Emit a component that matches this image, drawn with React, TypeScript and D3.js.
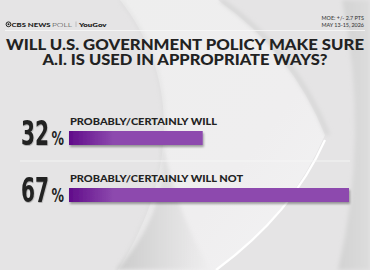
import { useMemo } from "react";
import * as d3 from "d3";

const WIDTH = 370;
const HEIGHT = 270;

const TITLE_LINES = ["WILL U.S. GOVERNMENT POLICY MAKE SURE", "A.I. IS USED IN APPROPRIATE WAYS?"];
const MOE_LINES = ["MOE: +/- 2.7 PTS", "MAY 13-15, 2026"];
const CATEGORIES = ["PROBABLY/CERTAINLY WILL", "PROBABLY/CERTAINLY WILL NOT"];
const VALUES = [32, 67];
const LABEL_WIDTHS = [147, 173];

const PURPLE_DARK = "#610c8a";
const PURPLE = "#8d4aae";
const INK = "#222222";

const BAR_LEFT = 69;
const BAR_RIGHT = 349;
const BAR_HEIGHT = 14;

const NUM_FONT = "'DejaVu Sans', sans-serif";

const App = () => {
  const xScale = useMemo(
    () => d3.scaleLinear().domain([0, d3.max(VALUES) as number]).range([BAR_LEFT, BAR_RIGHT]),
    []
  );
  const yScale = useMemo(
    () => d3.scalePoint<string>().domain(CATEGORIES).range([131, 188]),
    []
  );

  // background swoops of the eye logo
  const leftArc = "M120,0 C176,70 182,170 118,270";
  const lens = "M120,0 L218,0 Q292,52 325,135 Q292,212 218,270 L118,270 C182,170 176,70 120,0 Z";
  const crescent = "M158,130 C172,180 152,230 116,270 L212,270 C186,232 172,185 158,130 Z";
  const outer = d3.path();
  outer.moveTo(342, 0);
  outer.quadraticCurveTo(370, 135, 338, 270);
  outer.lineTo(370, 270);
  outer.lineTo(370, 0);
  outer.closePath();

  const rows = CATEGORIES.map((c, i) => ({ c, v: VALUES[i], y: yScale(c) as number, lw: LABEL_WIDTHS[i] }));

  return (
    <svg
      width={WIDTH}
      height={HEIGHT}
      style={{ position: "fixed", left: 0, top: 0 }}
      fontFamily="Lato, 'Open Sans', sans-serif"
    >
      <defs>
        <linearGradient id="barGrad" gradientUnits="userSpaceOnUse" x1={BAR_LEFT} x2={BAR_LEFT + 45} y1={0} y2={0}>
          <stop offset="0" stopColor={PURPLE_DARK} />
          <stop offset="1" stopColor={PURPLE} />
        </linearGradient>
        <linearGradient id="lensGrad" x1="0" y1="0" x2="1" y2="1">
          <stop offset="0" stopColor="#eeeeee" />
          <stop offset="0.6" stopColor="#efeeef" />
          <stop offset="1" stopColor="#f3f3f4" />
        </linearGradient>
        <linearGradient id="crescentGrad" x1="0" y1="0" x2="1" y2="0">
          <stop offset="0" stopColor="#cbcbcb" />
          <stop offset="1" stopColor="#cbcbcb" stopOpacity="0" />
        </linearGradient>
        <linearGradient id="rimGrad" x1="0" y1="0" x2="1" y2="0">
          <stop offset="0" stopColor="#d2d2d2" />
          <stop offset="1" stopColor="#dcdcdc" />
        </linearGradient>
        <filter id="soft" x="-20%" y="-20%" width="140%" height="140%">
          <feGaussianBlur stdDeviation="2" />
        </filter>
        <filter id="shadow" x="-5%" y="-50%" width="110%" height="220%">
          <feDropShadow dx="1" dy="2" stdDeviation="1.2" floodColor="#000" floodOpacity="0.35" />
        </filter>
        <filter id="numShadow" x="-10%" y="-10%" width="120%" height="130%">
          <feDropShadow dx="0.5" dy="1" stdDeviation="0.6" floodColor="#000" floodOpacity="0.25" />
        </filter>
      </defs>

      <rect width={WIDTH} height={HEIGHT} fill="#e5e4e5" />
      <path d={lens} fill="url(#lensGrad)" />
      <path d={crescent} fill="url(#crescentGrad)" filter="url(#soft)" />
      <path d={leftArc} fill="none" stroke="#d8d8d8" strokeWidth={1.5} filter="url(#soft)" />
      <path d="M218,0 Q292,52 325,135" fill="none" stroke="#d6d6d6" strokeWidth={4} filter="url(#soft)" transform="translate(3,0)" />
      <path d="M325,140 Q292,214 216,270" fill="none" stroke="#ffffff" strokeWidth={2.2} />
      <path d={outer.toString()} fill="url(#rimGrad)" filter="url(#soft)" />

      {/* header */}
      <g>
        <circle cx={8.5} cy={24.3} r={2.4} fill="none" stroke={INK} strokeWidth={1} />
        <circle cx={8.5} cy={24.3} r={1} fill={INK} />
        <text x={11.5} y={26.7} fontSize={6.4} fill={INK} fontWeight={900} textLength={39} lengthAdjust="spacingAndGlyphs">
          CBS NEWS
        </text>
        <text x={52} y={26.7} fontSize={6.4} fill={INK} fontWeight={300} textLength={20} lengthAdjust="spacingAndGlyphs">
          POLL
        </text>
        <line x1={76} x2={76} y1={21.5} y2={27} stroke="#999" strokeWidth={0.5} />
        <text x={79} y={26.7} fontSize={6.4} fill={INK} fontWeight={800} textLength={27.5} lengthAdjust="spacingAndGlyphs">
          YouGov
        </text>
        {MOE_LINES.map((t, i) => (
          <text key={t} x={364} y={19.5 + i * 7} fontSize={5.4} fill="#3a3a3a" textAnchor="end" fontWeight={500}>
            {t}
          </text>
        ))}
        <line x1={5} x2={365} y1={30.5} y2={30.5} stroke="#f7f7f7" strokeWidth={0.8} />
      </g>

      {/* title */}
      <text x={185} y={49.5} fontSize={15} fontWeight={900} fill={INK} textAnchor="middle" textLength={358} lengthAdjust="spacingAndGlyphs">
        {TITLE_LINES[0]}
      </text>
      <text x={185} y={64.5} fontSize={15} fontWeight={900} fill={INK} textAnchor="middle" textLength={285} lengthAdjust="spacingAndGlyphs">
        {TITLE_LINES[1]}
      </text>

      {/* separator between rows */}
      <line x1={20} x2={350} y1={161} y2={161} stroke="#f8f8f8" strokeWidth={0.8} />

      {rows.map((r) => (
        <g key={r.c}>
          <text
            x={49}
            y={r.y + 14}
            fontFamily={NUM_FONT}
            fontSize={34}
            fontWeight={700}
            fill={INK}
            textAnchor="end"
            textLength={28}
            lengthAdjust="spacingAndGlyphs"
            filter="url(#numShadow)"
          >
            {r.v}
          </text>
          <text
            x={51.5}
            y={r.y + 14}
            fontFamily={NUM_FONT}
            fontSize={19}
            fontWeight={700}
            fill={INK}
            textLength={12.5}
            lengthAdjust="spacingAndGlyphs"
          >
            %
          </text>
          <text x={70} y={r.y - 6} fontSize={9} fontWeight={900} fill={INK} textLength={r.lw} lengthAdjust="spacingAndGlyphs">
            {r.c}
          </text>
          <rect
            x={xScale(0)}
            y={r.y}
            width={xScale(r.v) - xScale(0)}
            height={BAR_HEIGHT}
            fill="url(#barGrad)"
            filter="url(#shadow)"
          />
        </g>
      ))}
    </svg>
  );
};

export default App;
